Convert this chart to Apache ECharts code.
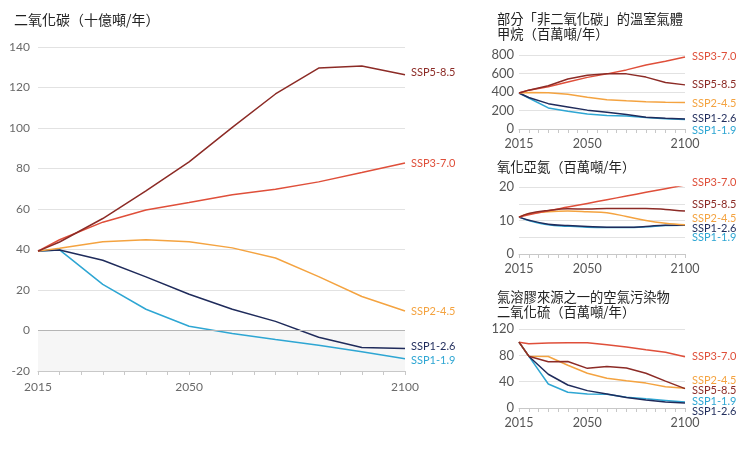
<!DOCTYPE html>
<html>
<head>
<meta charset="utf-8">
<script src="https://cdn.jsdelivr.net/npm/echarts@6/dist/echarts.min.js"></script>
<style>
  html, body { margin: 0; padding: 0; background: #fff; }
  #chart { width: 750px; height: 450px; }
</style>
</head>
<body>
<div id="chart"></div>
<script>
// scenario years and names
const years = [2015, 2020, 2030, 2040, 2050, 2060, 2070, 2080, 2090, 2100];
const scenarios = ['SSP1-1.9', 'SSP1-2.6', 'SSP2-4.5', 'SSP3-7.0', 'SSP5-8.5'];
const xLabels = [2015, 2050, 2100];

// CO2, Gt/yr
const co2_119 = [39.2, 39.8, 22.8, 10.5, 2.1, -1.5, -4.5, -7.3, -10.5, -13.9];
const co2_126 = [39.2, 39.8, 34.7, 26.5, 17.9, 10.5, 4.5, -3.3, -8.4, -8.9];
const co2_245 = [39.2, 40.6, 43.8, 44.8, 43.8, 40.8, 35.8, 26.6, 16.8, 9.6];
const co2_370 = [39.2, 44.8, 53.5, 59.5, 63.2, 67.0, 69.8, 73.4, 78.0, 82.7];
const co2_585 = [39.2, 43.7, 55.3, 68.9, 83.3, 100.3, 116.8, 129.6, 130.6, 126.3];

// CH4, Mt/yr
const ch4_119 = [389, 335, 228, 193, 161, 147, 140, 123, 112, 102];
const ch4_126 = [389, 340, 274, 239, 204, 182, 158, 128, 116, 109];
const ch4_245 = [389, 395, 393, 375, 344, 316, 305, 295, 288, 287];
const ch4_370 = [389, 420, 456, 509, 558, 596, 639, 691, 733, 779];
const ch4_585 = [389, 420, 467, 540, 582, 596, 596, 561, 502, 477];

// N2O, Mt/yr
const n2o_119 = [11.0, 10.0, 8.7, 8.3, 8.0, 7.9, 7.9, 8.1, 8.5, 8.6];
const n2o_126 = [11.0, 10.1, 8.9, 8.5, 8.2, 8.0, 8.0, 8.2, 8.6, 8.6];
const n2o_245 = [11.0, 12.0, 12.6, 12.8, 12.6, 12.3, 11.2, 10.0, 9.2, 8.7];
const n2o_370 = [11.0, 11.7, 12.9, 14.0, 15.1, 16.2, 17.3, 18.4, 19.5, 20.6];
const n2o_585 = [11.0, 12.1, 13.0, 13.5, 13.4, 13.6, 13.6, 13.6, 13.3, 12.8];

// SO2, Mt/yr
const so2_119 = [100, 78.7, 36.4, 23.9, 21.4, 20.9, 16.4, 13.9, 11.5, 9.0];
const so2_126 = [100, 78.7, 51.3, 34.9, 26.4, 21.4, 15.9, 12.0, 9.0, 7.5];
const so2_245 = [100, 78.7, 78.2, 65.0, 52.8, 45.3, 41.3, 37.8, 32.4, 29.9];
const so2_370 = [100, 97.6, 98.6, 99.0, 99.0, 96.0, 92.6, 88.6, 84.7, 77.7];
const so2_585 = [100, 78.7, 70.2, 70.7, 60.2, 63.2, 60.7, 52.8, 40.8, 29.4];

const colors = ['#2ea6d3', '#1f2b5b', '#f4a340', '#df4f3a', '#8c2b26'];

const numFont = 'Lato, "Noto Sans", sans-serif';
const cjkFont = '"Noto Sans CJK TC", "Noto Sans CJK SC", sans-serif';

const panels = [
    { data: [co2_119, co2_126, co2_245, co2_370, co2_585],
      grid: { left: 38, right: 345, top: 47, bottom: 79 },
      y: { min: -20, max: 140, interval: 20, step: 20 },
      offsets: [2, -2, 0, 0, -2], smooth: false, lineWidth: 1.5 },
    { data: [ch4_119, ch4_126, ch4_245, ch4_370, ch4_585],
      grid: { left: 519, right: 65, top: 55, bottom: 321 },
      y: { min: 0, max: 800, interval: 200, step: 200 },
      offsets: [11, 0, 1, 0, 0], smooth: false, lineWidth: 1.5 },
    { data: [n2o_119, n2o_126, n2o_245, n2o_370, n2o_585],
      grid: { left: 519, right: 65, top: 187, bottom: 196 },
      y: { min: 0, max: 20, interval: 5, step: 10 },
      offsets: [12, 3, -6, -3, -7], smooth: 0.4, lineWidth: 1.5 },
    { data: [so2_119, so2_126, so2_245, so2_370, so2_585],
      grid: { left: 519, right: 65, top: 329, bottom: 42 },
      y: { min: 0, max: 120, interval: 40, step: 40 },
      offsets: [-1, 8, -8, 0, 2], smooth: false, lineWidth: 1.5 }
];

const chart = echarts.init(document.getElementById('chart'));

const grid = [];
const xAxis = [];
const yAxis = [];
const series = [];

panels.forEach((p, i) => {
    const main = i === 0;
    grid.push(p.grid);
    xAxis.push({
        type: 'value',
        gridIndex: i,
        min: 2015,
        max: 2100,
        interval: 5,
        splitLine: { show: false },
        axisLine: { show: true, onZero: false, lineStyle: { color: '#c8c8c8' } },
        axisTick: { show: true, length: 4, lineStyle: { color: '#c8c8c8' } },
        axisLabel: {
            fontFamily: numFont,
            fontSize: main ? 12 : 12.5,
            color: main ? '#6a6a6a' : '#555',
            margin: main ? 10 : 8,
            formatter: (v) => xLabels.indexOf(v) >= 0 ? String(v) : ''
        }
    });
    yAxis.push({
        type: 'value',
        gridIndex: i,
        min: p.y.min,
        max: p.y.max,
        interval: p.y.interval,
        axisLine: { show: false },
        axisTick: { show: false },
        splitLine: { lineStyle: { color: '#e2e2e2', width: 1 } },
        axisLabel: {
            fontFamily: numFont,
            fontSize: main ? 12 : 13,
            color: main ? '#6a6a6a' : '#555',
            margin: main ? 8 : 5,
            formatter: (v) => v % p.y.step === 0 ? String(v) : ''
        }
    });
    p.data.forEach((vals, k) => {
        const s = {
            name: scenarios[k],
            type: 'line',
            xAxisIndex: i,
            yAxisIndex: i,
            data: years.map((yr, j) => [yr, vals[j]]),
            showSymbol: false,
            smooth: p.smooth,
            animation: false,
            lineStyle: { color: colors[k], width: p.lineWidth },
            itemStyle: { color: colors[k] },
            endLabel: {
                show: true,
                formatter: '{a}',
                color: colors[k],
                fontFamily: numFont,
                fontSize: 11,
                distance: main ? 6 : 7,
                offset: [0, p.offsets[k]]
            },
            z: 2 + k
        };
        if (main && k === 0) {
            // grey band under zero and the zero line
            s.markArea = {
                silent: true,
                itemStyle: { color: '#f6f6f6' },
                data: [[{ yAxis: -20 }, { yAxis: 0 }]]
            };
            s.markLine = {
                silent: true,
                symbol: 'none',
                label: { show: false },
                lineStyle: { color: '#b5b5b5', type: 'solid', width: 1 },
                data: [{ yAxis: 0 }]
            };
        }
        series.push(s);
    });
});

const titleStyle = (size) => ({ fontFamily: cjkFont, fontSize: size, fontWeight: 'normal', color: '#222', lineHeight: 15 });

chart.setOption({
    backgroundColor: '#fff',
    animation: false,
    title: [
        { text: '二氧化碳（十億噸/年）', left: 9, top: 7, textStyle: titleStyle(14) },
        { text: '部分「非二氧化碳」的溫室氣體\n甲烷（百萬噸/年）', left: 492, top: 6, textStyle: titleStyle(13.3) },
        { text: '氧化亞氮（百萬噸/年）', left: 492, top: 154, textStyle: titleStyle(13.3) },
        { text: '氣溶膠來源之一的空氣污染物\n二氧化硫（百萬噸/年）', left: 492, top: 284, textStyle: titleStyle(13.3) }
    ],
    grid: grid,
    xAxis: xAxis,
    yAxis: yAxis,
    series: series
});
</script>
</body>
</html>
